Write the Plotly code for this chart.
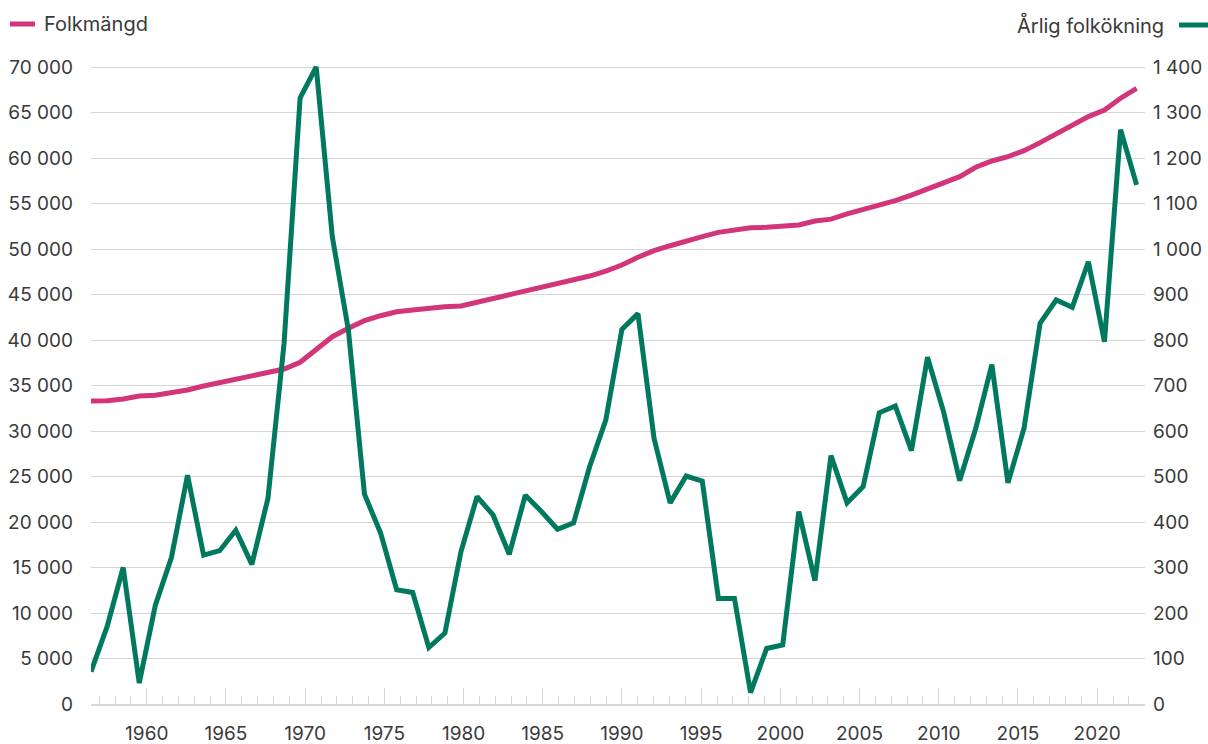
import plotly.graph_objects as go

# ---- data ----
years = list(range(1957, 2023))

folkmangd = [
    33300, 33330, 33520, 33850, 33920, 34210, 34500, 34940, 35310, 35680,
    36040, 36450, 36810, 37550, 38900, 40360, 41290, 42120, 42670, 43110,
    43300, 43550, 43660, 43740, 44140, 44650, 45020, 45310, 45790, 46230,
    46590, 47030, 47580, 48240, 49090, 49810, 50360, 50800, 51350, 51830,
    52090, 52340, 52380, 52530, 52640, 53080, 53280, 53850, 54290, 54760,
    55310, 55930, 56560, 57290, 57950, 58980, 59670, 60150, 60800, 61690,
    62650, 63560, 64550, 65280, 66570, 67660,
]

arlig_folkokning = [
    71, 170, 300, 46, 217, 322, 503, 327, 337, 382,
    307, 452, 792, 1332, 1400, 1027, 822, 461, 376, 251,
    245, 124, 156, 335, 456, 415, 329, 459, 423, 384,
    398, 522, 624, 823, 858, 584, 442, 501, 490, 232,
    232, 25, 122, 130, 423, 271, 546, 442, 478, 640,
    655, 557, 762, 642, 491, 606, 746, 486, 606, 837,
    888, 872, 972, 796, 1262, 1141,
]

tick_years = list(range(1960, 2021, 5))

PINK = "#d2357a"
GREEN = "#00795f"
GRID = "#d6d6d6"
TEXT = "#3a3a3a"
FONT = "Inter"
TICKSIZE = 19
LEGSIZE = 20

fig = go.Figure()

fig.add_trace(go.Scatter(
    x=years, y=folkmangd, name="Folkmängd", mode="lines",
    line=dict(color=PINK, width=5), yaxis="y", xaxis="x",
))
fig.add_trace(go.Scatter(
    x=years, y=arlig_folkokning, name="Årlig folkökning", mode="lines",
    line=dict(color=GREEN, width=5), yaxis="y2", xaxis="x",
))
# carrier trace for the tick axis
fig.add_trace(go.Scatter(
    x=tick_years, y=[None] * len(tick_years), xaxis="x2", yaxis="y",
    showlegend=False, hoverinfo="skip", mode="lines",
))

# plot area geometry (pixels)
L, R, T, B = 91, 1145, 60, 704
W, H = 1208, 744
def px(x):
    return (x - L) / (R - L)
def py(y):
    return (B - y) / (B - T)

fig.update_layout(
    width=W, height=H,
    margin=dict(l=L, r=W - R, t=T, b=H - B, autoexpand=False),
    plot_bgcolor="white", paper_bgcolor="white",
    separators=", ",
    showlegend=False,
    hovermode=False,
    font=dict(family=FONT, size=TICKSIZE, color=TEXT),
    xaxis=dict(range=[1957.0, 2022.52], visible=False, showgrid=False,
               zeroline=False),
    xaxis2=dict(
        overlaying="x", anchor="y", side="bottom",
        range=[1956.48, 2023.02],
        tickmode="array", tickvals=tick_years,
        ticktext=[str(t) for t in tick_years],
        ticks="inside", ticklen=16, tickwidth=1, tickcolor=GRID,
        minor=dict(ticks="inside", ticklen=8, tickwidth=1, tickcolor=GRID,
                   dtick=1, tick0=1957, showgrid=False),
        showline=True, linecolor=GRID, linewidth=1.5,
        showgrid=False, zeroline=False,
        ticklabelstandoff=11, automargin=False,
        tickfont=dict(family=FONT, size=TICKSIZE, color=TEXT),
    ),
    yaxis=dict(
        range=[0, 70000 * (B - T) / 637], dtick=5000, tick0=0,
        showgrid=True, gridcolor=GRID, gridwidth=1.2,
        zeroline=False, showline=False, ticks="",
        tickformat=",d", ticklabelstandoff=17, automargin=False,
        tickfont=dict(family=FONT, size=TICKSIZE, color=TEXT),
    ),
    yaxis2=dict(
        overlaying="y", side="right", anchor="x",
        range=[0, 1400 * (B - T) / 637], dtick=100, tick0=0,
        showgrid=False, zeroline=False, showline=False, ticks="",
        tickformat=",d", ticklabelstandoff=7, automargin=False,
        tickfont=dict(family=FONT, size=TICKSIZE, color=TEXT),
    ),
)

# legend drawn as text + line swatches
fig.add_shape(type="line", xref="paper", yref="paper",
              x0=px(10), x1=px(35), y0=py(24), y1=py(24),
              line=dict(color=PINK, width=5))
fig.add_annotation(text="Folkmängd", xref="paper", yref="paper",
                   x=px(42), y=py(24), xanchor="left", yanchor="middle",
                   showarrow=False, font=dict(family=FONT, size=LEGSIZE, color=TEXT))
fig.add_shape(type="line", xref="paper", yref="paper",
              x0=px(1179), x1=px(1210), y0=py(25), y1=py(25),
              line=dict(color=GREEN, width=5))
fig.add_annotation(text="Årlig folkökning", xref="paper", yref="paper",
                   x=px(1166), y=py(25), xanchor="right", yanchor="middle",
                   showarrow=False, font=dict(family=FONT, size=LEGSIZE, color=TEXT))

fig.write_html("out.html", config={"displayModeBar": False},
               post_script="document.body.style.margin='0';")
